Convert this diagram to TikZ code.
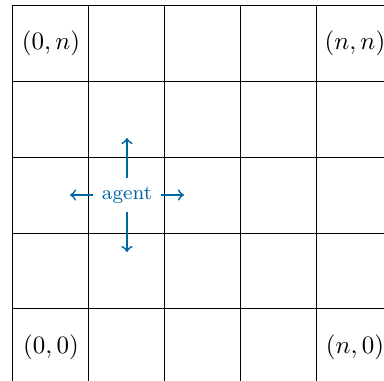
\documentclass[tikz,border=0pt]{standalone}
\definecolor{agentblue}{RGB}{0,102,160}
\tikzset{move/.style={->, agentblue, line width=0.7pt}}
\begin{document}
\begin{tikzpicture}[x=30.4pt, y=30.4pt]
    \useasboundingbox (-0.171,0.053) rectangle (4.882,5.066);
    \clip (-0.171,0.053) rectangle (4.882,5.066);
    \draw[step=30.4pt] (0,0) grid (5,5);

    \node (topleft) at (0.5,4.5) {$(0,n)$};
    \node (topright) at (4.5,4.5) {$(n,n)$};
    \node (bottomleft) at (0.5,0.5) {$(0,0)$};
    \node (bottomright) at (4.5,0.5) {$(n,0)$};

    \node[text=agentblue, font=\footnotesize] (agent) at (1.5,2.5) {agent};
    \coordinate (up) at (1.5,3.25);
    \coordinate (down) at (1.5,1.75);
    \coordinate (left) at (0.75,2.5);
    \coordinate (right) at (2.25,2.5);

    \draw[move] (agent.north) -- (up);
    \draw[move] (agent.south) -- (down);
    \draw[move] (agent.west) -- (left);
    \draw[move] (agent.east) -- (right);
\end{tikzpicture}
\end{document}
